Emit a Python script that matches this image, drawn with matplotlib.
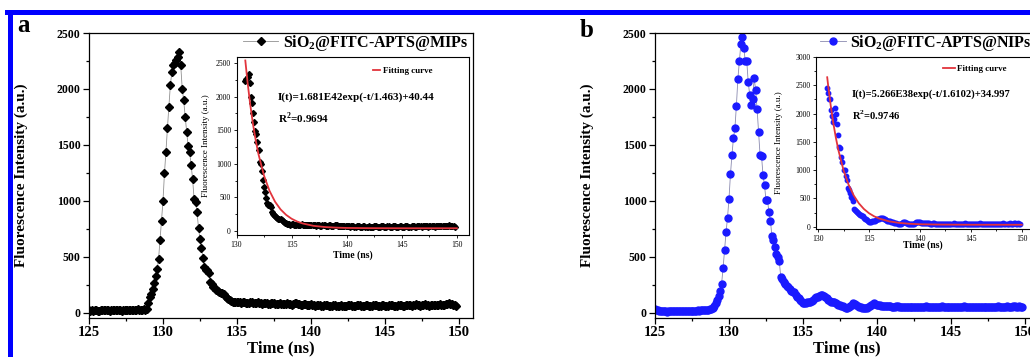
import numpy as np
import matplotlib
matplotlib.use("Agg")
import matplotlib.pyplot as plt
from matplotlib.lines import Line2D
from matplotlib.ticker import MultipleLocator

plt.rcParams['font.family'] = ['Liberation Serif', 'DejaVu Serif']
plt.rcParams['mathtext.fontset'] = 'custom'
plt.rcParams['mathtext.rm'] = 'Liberation Serif:bold'
plt.rcParams['mathtext.bf'] = 'Liberation Serif:bold'

# ---------------- data ----------------
T_START = 125.0
T_STEP = 0.1

intensity_mips = [
    22, 18, 25, 20, 24, 27, 21, 19, 26, 23,
    25, 22, 28, 24, 20, 26, 23, 29, 25, 22,
    27, 24, 21, 26, 28, 23, 25, 30, 26, 24,
    28, 25, 27, 31, 26, 29, 27, 32, 30, 34,
    90, 140, 170, 215, 270, 330, 390, 480, 650, 820,
    1000, 1250, 1440, 1650, 1840, 2040, 2150, 2210, 2230, 2260,
    2290, 2330, 2210, 2000, 1900, 1750, 1620, 1490, 1440, 1320,
    1200, 1020, 990, 900, 760, 660, 580, 490, 410, 385,
    380, 355, 280, 255, 235, 220, 205, 195, 185, 180,
    175, 165, 150, 135, 122, 112, 105, 100, 98, 95,
    98, 102, 95, 90, 96, 100, 93, 88, 92, 97,
    94, 89, 86, 91, 95, 90, 85, 82, 88, 92,
    87, 83, 80, 85, 90, 86, 81, 78, 84, 88,
    84, 79, 76, 81, 86, 83, 78, 74, 80, 85,
    90, 84, 76, 70, 74, 80, 77, 72, 68, 73,
    78, 74, 69, 65, 70, 75, 71, 66, 63, 68,
    72, 68, 64, 61, 66, 70, 67, 62, 60, 64,
    69, 65, 62, 60, 64, 68, 72, 69, 64, 61,
    65, 70, 74, 71, 66, 62, 66, 70, 68, 63,
    60, 64, 69, 73, 70, 65, 61, 65, 69, 67,
    62, 59, 63, 68, 72, 68, 64, 61, 66, 70,
    73, 69, 65, 62, 67, 71, 74, 70, 66, 69,
    72, 76, 72, 68, 65, 69, 73, 77, 73, 69,
    66, 70, 74, 71, 67, 71, 75, 78, 74, 70,
    73, 77, 81, 85, 80, 76, 72, 68, 64,
]

intensity_nips = [
    35, 28, 22, 18, 15, 14, 16, 15, 13, 15,
    17, 16, 14, 15, 18, 17, 15, 16, 19, 18,
    16, 17, 19, 20, 18, 19, 21, 20, 19, 22,
    21, 23, 22, 24, 26, 25, 28, 32, 38, 45,
    60, 90, 120, 150, 200, 260, 400, 560, 720, 850,
    1020, 1240, 1410, 1560, 1650, 1850, 2090, 2250, 2400, 2460,
    2370, 2250, 2250, 2060, 1950, 1860, 1910, 2100, 1990, 1820,
    1620, 1410, 1400, 1230, 1140, 1010, 1010, 900, 820, 690,
    650, 590, 530, 500, 460, 320, 300, 280, 260, 240,
    230, 210, 200, 190, 185, 160, 145, 130, 115, 105,
    90, 85, 90, 95, 100, 100, 110, 120, 130, 140,
    145, 150, 158, 160, 150, 140, 130, 120, 110, 100,
    100, 95, 90, 80, 75, 70, 65, 60, 50, 45,
    40, 50, 60, 75, 85, 80, 70, 60, 55, 50,
    45, 40, 40, 45, 55, 65, 75, 82, 85, 80,
    75, 70, 68, 65, 62, 60, 58, 60, 63, 60,
    56, 54, 57, 60, 58, 55, 52, 54, 57, 55,
    52, 50, 53, 56, 54, 51, 49, 52, 55, 53,
    50, 52, 55, 58, 56, 53, 51, 54, 57, 55,
    52, 50, 53, 56, 59, 56, 53, 51, 54, 57,
    55, 52, 50, 53, 56, 54, 51, 53, 56, 58,
    55, 52, 54, 57, 55, 52, 50, 53, 56, 54,
    51, 49, 52, 55, 53, 50, 52, 55, 57, 54,
    52, 55, 58, 56, 53, 51, 54, 57, 59, 56,
    53, 56, 58, 60, 57, 55, 58, 56, 54,
]

fit_mips_t = [130.8, 131.0, 131.25, 131.5, 131.75, 132.0, 132.5, 133.0, 133.5, 134.0,
              134.5, 135.0, 135.5, 136.0, 137.0, 138.0, 139.0, 140.0, 142.0, 145.0, 150.0]
fit_mips_v = [2538, 2219, 1877, 1588, 1345, 1140, 822, 596, 435, 321,
              240, 182, 141, 112, 76, 59, 50, 45, 42, 40.5, 40.4]
fit_nips_t = [130.9, 131.0, 131.25, 131.5, 131.75, 132.0, 132.5, 133.0, 133.5, 134.0,
              134.5, 135.0, 135.5, 136.0, 137.0, 138.0, 139.0, 140.0, 142.0, 145.0, 150.0]
fit_nips_v = [2642, 2485, 2133, 1831, 1573, 1352, 1000, 743, 554, 415,
              314, 239, 185, 145, 94, 67, 52, 44, 38, 35.3, 35]

inset_start_mips = 130.8
inset_start_nips = 130.9

label_mips = r"SiO$_2$@FITC-APTS@MIPs"
label_nips = r"SiO$_2$@FITC-APTS@NIPs"
eq_mips = "I(t)=1.681E42exp(-t/1.463)+40.44"
eq_nips = "I(t)=5.266E38exp(-t/1.6102)+34.997"
r2_mips = r"R$^2$=0.9694"
r2_nips = r"R$^2$=0.9746"

# ---------------- figure ----------------
W, H = 1030, 357
fig = plt.figure(figsize=(W / 100, H / 100), dpi=100)


def fx(px):
    return px / W


def fy(py):
    return 1 - py / H


def main_axes(left_px, t, y, color, marker, ms, lab, leg_x, handlelen, line_color):
    ax = fig.add_axes([fx(left_px), fy(318), 384 / W, 285 / H])
    ax.plot(t, y, color=line_color, lw=0.6, zorder=1)
    ax.plot(t, y, ls='none', marker=marker, ms=ms, color=color, mec=color, zorder=2)
    ax.set_xlim(125, 150.95)
    ax.set_ylim(-45, 2500)
    ax.xaxis.set_major_locator(MultipleLocator(5))
    ax.xaxis.set_minor_locator(MultipleLocator(2.5))
    ax.yaxis.set_major_locator(MultipleLocator(500))
    ax.yaxis.set_minor_locator(MultipleLocator(250))
    ax.tick_params(which='both', direction='out', top=False, right=False, width=0.9)
    ax.tick_params(which='major', length=4)
    ax.tick_params(which='minor', length=2.5)
    ax.tick_params(axis='x', labelsize=10.5, pad=2)
    ax.tick_params(axis='y', labelsize=8.5, pad=2)
    for lbl in ax.get_xticklabels() + ax.get_yticklabels():
        lbl.set_fontweight('bold')
    for s in ax.spines.values():
        s.set_linewidth(0.9)
    ax.set_xlabel("Time (ns)", fontsize=12, fontweight='bold', labelpad=0.5)
    ax.set_ylabel("Fluorescence Intensity (a.u.)", fontsize=11, fontweight='bold')
    ax.yaxis.set_label_coords(-0.158, 0.5)
    h = Line2D([], [], color=line_color, lw=0.6, marker=marker, ms=ms, mfc=color, mec=color)
    fig.legend([h], [lab], loc='center left', bbox_to_anchor=(fx(leg_x), fy(43)),
               frameon=False, borderpad=0, borderaxespad=0, handlelength=handlelen,
               handletextpad=0.3, prop={'family': 'Liberation Serif', 'weight': 'bold', 'size': 11.5})
    return ax


def inset_axes(rect_px, t, y, tf, vf, color, marker, ms, xlim, ylim, yticks_step, ylab_x, xlab_xy,
               leg_xy, leg_hl, eq, r2, eq_xy, eq_size):
    l, r, tp, b = rect_px
    ax = fig.add_axes([fx(l), fy(b), (r - l) / W, (b - tp) / H])
    ax.plot(t, y, ls='none', marker=marker, ms=ms, color=color, mec=color, zorder=2)
    ax.plot(tf, vf, color='#e2343c', lw=1.3, zorder=3)
    ax.set_xlim(*xlim)
    ax.set_ylim(*ylim)
    ax.xaxis.set_major_locator(MultipleLocator(5))
    ax.xaxis.set_minor_locator(MultipleLocator(2.5))
    ax.yaxis.set_major_locator(MultipleLocator(yticks_step))
    ax.yaxis.set_minor_locator(MultipleLocator(yticks_step / 2))
    ax.tick_params(which='both', direction='out', top=False, right=False, width=0.6, labelsize=5.5, pad=1.5)
    ax.tick_params(which='major', length=2.5)
    ax.tick_params(which='minor', length=1.5)
    for s in ax.spines.values():
        s.set_linewidth(0.8)
    ax.set_ylabel("Fluorescence Intensity (a.u.)", fontsize=6.5)
    ax.yaxis.set_label_coords(ylab_x, 0.5)
    ax.set_xlabel("Time (ns)", fontsize=7, fontweight='bold')
    ax.xaxis.set_label_coords(*xlab_xy)
    h = Line2D([], [], color='#e2343c', lw=1.3)
    fig.legend([h], ["Fitting curve"], loc='center left', bbox_to_anchor=(fx(leg_xy[0]), fy(leg_xy[1])),
               frameon=False, borderpad=0, borderaxespad=0, handlelength=leg_hl, handletextpad=0.3,
               prop={'family': 'Liberation Serif', 'weight': 'bold', 'size': 6.5})
    fig.text(fx(eq_xy[0]), fy(eq_xy[1]), eq, fontsize=eq_size, fontweight='bold', ha='left', va='center')
    fig.text(fx(eq_xy[0]), fy(eq_xy[1] + 21), r2, fontsize=eq_size, fontweight='bold', ha='left', va='center')
    return ax


n = len(intensity_mips)
t_mips = T_START + T_STEP * np.arange(n)
t_nips = T_START + T_STEP * np.arange(len(intensity_nips))
y_mips = np.array(intensity_mips, dtype=float)
y_nips = np.array(intensity_nips, dtype=float)

BLUE = '#1a1aff'

ax_a = main_axes(89, t_mips, y_mips, 'black', 'D', 4.3, label_mips, 243, 2.2, '#909090')
ax_b = main_axes(655, t_nips, y_nips, BLUE, 'o', 5.0, label_nips, 820, 1.6, '#8a8ab0')

ma = t_mips >= inset_start_mips - 1e-9
inset_axes((236.5, 469, 57, 235), t_mips[ma], y_mips[ma], fit_mips_t, fit_mips_v, 'black', 'D', 3.0,
           (130, 151.1), (-60, 2590), 500, -0.115, (0.5, -0.085), (373, 71), 0.8,
           eq_mips, r2_mips, (278, 97), 8)
mb = t_nips >= inset_start_nips - 1e-9
inset_axes((816, 1033, 57, 229), t_nips[mb], y_nips[mb], fit_nips_t, fit_nips_v, BLUE, 'o', 3.2,
           (129.8, 151.1), (-40, 3000), 500, -0.15, (0.49, -0.068), (943, 69), 1.3,
           eq_nips, r2_nips, (852, 94), 7.6)

# panel letters
fig.text(fx(17), fy(32), "a", fontsize=18, fontweight='bold', ha='left', va='baseline')
fig.text(fx(580), fy(37), "b", fontsize=18, fontweight='bold', ha='left', va='baseline')

# blue frame (top and left edges)
fig.add_artist(Line2D([fx(7), 1.0], [fy(12), fy(12)], color='#0000ff', lw=3.6, transform=fig.transFigure))
fig.add_artist(Line2D([fx(9.5), fx(9.5)], [0, fy(12)], color='#0000ff', lw=3.6, transform=fig.transFigure,
                      solid_capstyle='butt'))

fig.savefig("out.png", dpi=100)
